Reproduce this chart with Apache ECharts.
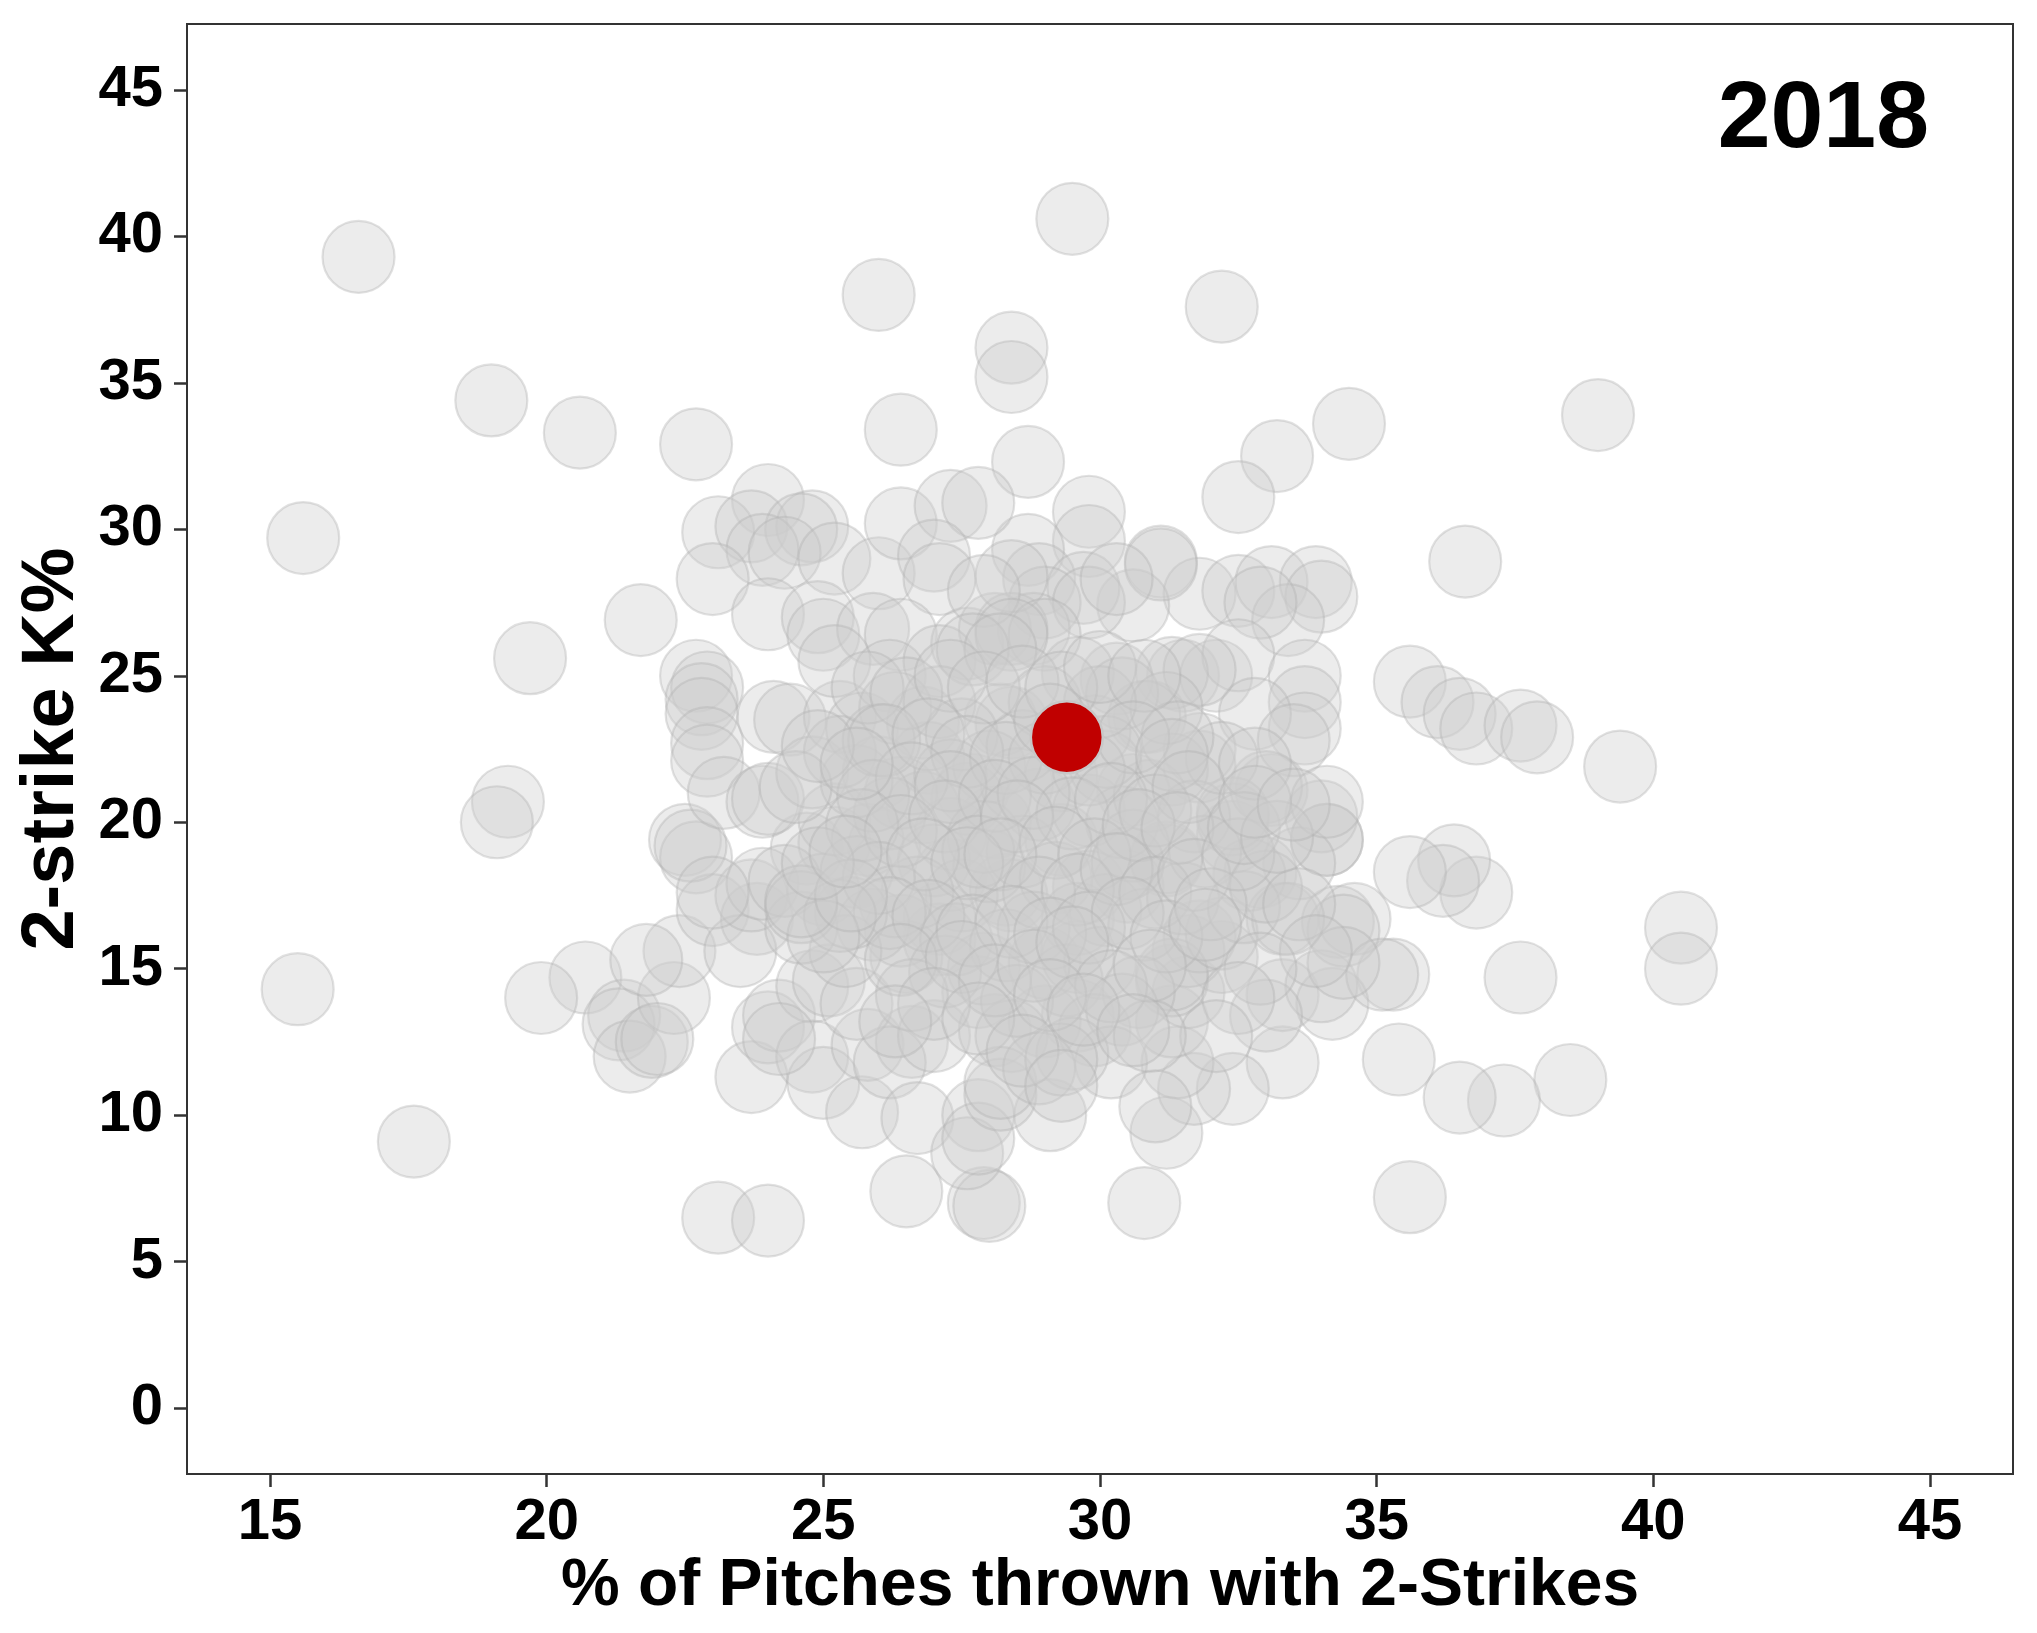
<!DOCTYPE html>
<html>
<head>
<meta charset="utf-8">
<script src="https://cdn.jsdelivr.net/npm/echarts@6/dist/echarts.min.js"></script>
<style>html,body{margin:0;padding:0;background:#fff}#c{width:2037px;height:1633px}</style>
</head>
<body>
<div id="c"></div>
<script>
// % of pitches thrown with 2 strikes (x) and 2-strike K% (y), all pitchers
const pitchPct = [
16.6,29.5,26.0,32.2,28.4,28.4,19.0,20.6,34.5,39.0,22.7,26.4,33.2,28.7,15.6,32.5,24.0,19.7,21.7,19.3,19.1,36.6,39.4,40.5,40.5,38.5,37.3,36.5,35.6,35.4,15.5,17.6,23.1,24.0,26.5,27.9,28.0,30.8,31.2,29.1,
37.6,36.8,36.4,36.2,35.6,35.3,35.6,36.1,36.5,36.8,37.6,37.9,33.3,32.4,31.7,31.4,31.3,31.6,33.3,20.7,19.9,21.4,21.3,21.5,21.9,22.3,22.4,21.8,22.5,22.7,
23.0,23.8,23.5,23.7,23.7,24.0,24.2,24.8,25.1,24.8,25.0,25.7,25.8,26.6,26.2,27.0,25.6,26.7,27.8,27.6,27.1,27.1,26.5,27.8,28.1,27.8,28.2,24.7,25.2,26.1,
27.3,28.3,26.4,27.9,23.9,25.0,22.6,29.3,30.5,31.2,32.4,32.9,34.1,33.3,34.3,34.2,34.0,33.0,32.2,31.3,29.6,29.0,28.4,28.2,29.0,29.6,28.4,29.8,30.5,31.6,
31.8,31.1,31.8,32.5,33.1,33.9,34.0,33.4,32.9,30.6,31.5,32.1,32.5,33.7,33.7,33.7,32.8,33.1,32.4,34.0,34.1,33.6,32.7,34.6,34.4,35.1,34.4,31.2,30.5,31.3,
32.2,33.4,31.8,30.9,29.8,29.8,28.7,31.1,28.9,29.7,29.0,29.8,28.8,31.3,31.8,30.3,29.6,30.8,31.8,33.5,28.4,30.6,33.0,34.1,32.4,28.1,23.1,23.7,24.8,24.6,
23.9,24.3,25.2,26.0,26.4,27.3,27.8,27.0,27.1,23.0,24.0,24.9,25.0,25.9,26.4,27.6,28.1,22.7,22.9,22.8,22.8,22.9,22.9,23.2,23.9,24.0,25.2,25.8,24.1,24.4,
24.8,25.3,25.7,25.2,26.2,26.8,26.9,26.0,27.7,28.2,28.4,28.4,27.9,29.0,28.4,27.1,27.7,28.2,30.3,26.8,27.3,27.6,28.0,28.5,28.9,29.3,29.8,30.1,30.4,30.9,
31.3,31.7,26.4,27.0,27.5,28.0,28.6,29.2,29.6,30.1,30.8,31.5,26.7,27.4,28.3,28.8,29.4,30.0,30.7,27.2,26.6,28.5,29.9,30.4,30.2,29.5,28.9,26.2,25.6,25.3,
26.3,27.1,27.5,28.6,29.0,29.9,30.4,30.1,31.2,32.2,32.8,25.6,25.9,25.4,26.3,24.6,24.3,27.9,29.0,30.6,31.9,32.6,33.0,33.6,33.9,32.9,32.5,32.1,30.9,31.0,
31.4,23.0,24.2,22.0,30.0,27.3,26.0,25.5,24.6,29.3,
25.8,26.5,27.3,27.9,28.6,29.3,30.0,30.8,26.1,26.9,27.6,28.3,29.1,29.8,30.6,31.3,25.9,26.6,27.3,28.1,28.8,29.5,30.2,31.0,31.6,25.7,26.4,27.2,27.8,28.5,
29.2,29.9,30.7,31.4,26.0,26.8,27.6,28.2,28.9,29.6,30.3,31.0,31.7,26.2,26.9,27.7,28.4,29.1,29.8,30.5,31.2,26.4,27.5,28.1,28.8,29.5,30.2,30.9,27.0,27.8,
29.1,29.7,30.6,26.3,28.6,29.3,25.3,25.0,24.6,25.5,24.9,25.4,24.5,24.9,25.6,32.0,32.5,31.9,32.6,33.2,32.8,33.5
];
const kPct = [
39.3,40.6,38.0,37.6,36.2,35.2,34.4,33.3,33.6,33.9,32.9,33.4,32.5,32.3,29.7,31.1,31.0,25.6,26.9,20.7,20.0,28.9,21.9,16.4,15.0,11.2,10.5,10.6,7.2,11.9,14.3,9.1,6.5,6.4,7.4,7.0,6.9,7.0,9.4,10.0,
14.7,17.6,18.7,18.0,18.3,14.8,24.8,24.1,23.7,23.2,23.3,22.9,11.8,10.9,10.9,11.8,13.2,14.2,14.1,14.7,14.0,13.4,13.1,12.0,12.5,14.0,15.6,15.3,19.4,18.8,
17.0,16.7,15.6,17.5,11.3,13.0,13.4,14.4,14.6,12.0,11.1,10.1,12.4,12.5,11.8,12.7,13.8,9.9,10.0,8.7,16.7,16.0,15.4,14.2,12.9,9.2,10.7,19.1,19.3,19.2,
18.2,17.7,16.3,15.0,17.9,17.7,19.2,19.4,18.6,18.7,19.5,18.3,19.4,16.7,16.6,13.8,14.4,13.4,15.4,14.6,13.4,13.2,12.7,11.1,15.2,15.4,17.5,17.8,17.8,15.6,
16.1,28.9,27.8,27.9,28.2,28.2,27.7,26.9,27.5,27.4,25.0,25.0,25.7,25.0,24.1,23.2,23.7,21.1,20.1,20.2,19.4,18.6,18.2,16.7,16.3,14.8,15.2,18.8,18.6,14.8,
16.2,16.7,21.9,23.6,30.6,29.6,29.3,28.8,28.3,28.0,27.5,27.5,26.6,25.1,25.2,24.9,25.1,23.6,22.5,22.8,23.4,21.1,21.2,20.7,20.3,20.0,29.9,30.1,30.1,30.0,
29.3,29.2,29.0,28.5,30.2,30.8,30.9,29.1,28.3,28.3,27.1,27.0,26.4,26.6,26.4,26.1,26.6,25.0,24.6,24.2,23.7,22.7,22.1,21.0,20.7,20.8,20.1,19.4,23.6,23.5,
21.7,23.6,23.2,25.5,25.0,23.4,22.2,21.7,21.1,23.5,26.6,28.4,27.9,26.4,26.4,25.5,25.9,25.9,28.3,20.5,19.6,20.8,21.9,21.3,20.6,21.6,20.4,21.9,20.0,20.9,
21.8,20.2,21.0,18.7,17.5,18.5,19.0,18.1,16.7,17.0,16.5,17.4,17.6,16.0,15.8,16.4,14.6,15.2,14.2,14.9,14.1,13.9,12.9,13.6,11.8,12.1,11.6,20.3,21.4,22.4,
23.9,24.1,23.0,22.6,24.1,23.1,24.4,22.4,23.9,22.2,22.0,18.3,16.5,15.6,17.3,16.4,18.0,19.5,22.2,19.2,19.0,17.1,17.8,17.2,15.6,15.0,14.0,12.7,12.7,10.3,
22.9,17.6,12.6,12.6,24.1,21.6,22.8,16.9,17.1,11.9,
24.6,24.4,25.0,24.6,24.8,24.6,25.3,25.0,22.8,23.0,22.4,22.2,23.5,21.8,22.9,22.3,20.9,21.5,21.2,20.9,21.0,20.3,20.8,20.4,21.2,19.9,19.7,20.2,19.0,20.2,
19.3,18.9,19.9,19.8,18.1,18.9,18.6,18.9,17.6,17.7,18.4,17.6,18.2,16.9,16.8,16.3,16.6,16.2,16.4,16.9,16.1,15.3,15.4,14.6,15.1,15.9,14.4,15.1,13.8,13.3,
14.1,13.6,12.9,13.2,12.2,11.0,16.8,16.1,17.3,17.5,18.6,19.0,21.2,22.6,22.0,17.2,18.9,16.5,19.8,19.5,20.7,20.6
];
// highlighted pitcher
const highlightPct = [29.4];
const highlightK = [22.9];
// axis tick labels
const xTicks = [15, 20, 25, 30, 35, 40, 45];
const yTicks = [0, 5, 10, 15, 20, 25, 30, 35, 40, 45];
const yearLabel = '2018';

const allPts = pitchPct.map((x, i) => [x, kPct[i]]);
const redPts = highlightPct.map((x, i) => [x, highlightK[i]]);

const chart = echarts.init(document.getElementById('c'), null, {renderer: 'canvas'});
const font = 'Liberation Sans, Arial, Helvetica, sans-serif';
const axisCommon = {
  type: 'value',
  splitLine: {show: false},
  axisLine: {show: true, onZero: false, lineStyle: {color: '#333', width: 2}},
};
chart.setOption({
  animation: false,
  backgroundColor: '#ffffff',
  grid: {left: 187, right: 24, top: 24, bottom: 159, show: true, borderColor: '#333', borderWidth: 2, backgroundColor: 'transparent'},
  xAxis: Object.assign({}, axisCommon, {
    min: 13.5, max: 46.5,
    axisTick: {show: true, length: 13, lineStyle: {color: '#333', width: 2.5}, customValues: xTicks},
    axisLabel: {customValues: xTicks, margin: 20, color: '#000', fontSize: 58, fontWeight: 'bold', fontFamily: font}
  }),
  yAxis: Object.assign({}, axisCommon, {
    min: -2.25, max: 47.25,
    axisTick: {show: true, length: 13, lineStyle: {color: '#333', width: 2.5}, customValues: yTicks},
    axisLabel: {customValues: yTicks, margin: 24, color: '#000', fontSize: 58, fontWeight: 'bold', fontFamily: font}
  }),
  graphic: [
    {type: 'text', x: 1100, y: 1587, style: {text: '% of Pitches thrown with 2-Strikes', font: 'bold 66px ' + font, fill: '#000', textAlign: 'center', textVerticalAlign: 'middle'}},
    {type: 'text', x: 53, y: 749, rotation: Math.PI / 2, style: {text: '2-strike K%', font: 'bold 74px ' + font, fill: '#000', textAlign: 'center', textVerticalAlign: 'middle'}},
    {type: 'text', x: 1929, y: 121, z: 100, style: {text: yearLabel, font: 'bold 95px ' + font, fill: '#000', textAlign: 'right', textVerticalAlign: 'middle'}}
  ],
  series: [
    {
      type: 'scatter', data: allPts, symbol: 'circle', symbolSize: 72, z: 2,
      itemStyle: {color: 'rgba(205,205,205,0.38)', borderColor: 'rgba(175,175,175,0.38)', borderWidth: 2.2, opacity: 1},
      emphasis: {disabled: true}
    },
    {
      type: 'scatter', data: redPts, symbol: 'circle', symbolSize: 72, z: 3,
      itemStyle: {color: '#c00000', borderColor: '#c8c8c8', borderWidth: 2.5, opacity: 1},
      emphasis: {disabled: true}
    }
  ]
});
</script>
</body>
</html>
